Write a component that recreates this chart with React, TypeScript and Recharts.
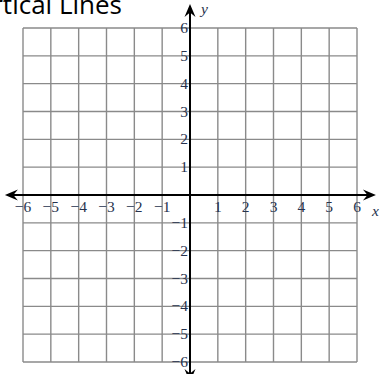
import { ScatterChart, Scatter, XAxis, YAxis, CartesianGrid, ReferenceLine, ReferenceDot } from 'recharts';

const TICKS = [-6, -5, -4, -3, -2, -1, 0, 1, 2, 3, 4, 5, 6];
const LABELED_TICKS = [-6, -5, -4, -3, -2, -1, 1, 2, 3, 4, 5, 6];
const X_AXIS_ENDS = [-6.65, 6.68];
const Y_AXIS_ENDS = [-6.72, 6.86];
const TITLE = 'Vertical Lines';

const LABEL_FONT = '"Liberation Serif", "DejaVu Serif", serif';
const LABEL_COLOR = '#26324d';

const fmt = (v: number) => (v < 0 ? `\u2212${Math.abs(v)}` : `${v}`);

const xLabelData = LABELED_TICKS.map((t) => ({ x: t, y: 0, label: fmt(t) }));
const yLabelData = LABELED_TICKS.map((t) => ({ x: 0, y: t, label: fmt(t) }));

function arrowHead(x: number, y: number, dx: number, dy: number) {
  // stealth-style arrowhead pointing along (dx, dy)
  const len = 13;
  const half = 5.5;
  const px = -dy;
  const py = dx;
  const bx = x - dx * len;
  const by = y - dy * len;
  const ix = x - dx * len * 0.65;
  const iy = y - dy * len * 0.65;
  return `M${x},${y} L${bx + px * half},${by + py * half} L${ix},${iy} L${bx - px * half},${by - py * half} Z`;
}

function AxisArrow(props: any) {
  const { x1, y1, x2, y2 } = props;
  const L = Math.hypot(x2 - x1, y2 - y1) || 1;
  const dx = (x2 - x1) / L;
  const dy = (y2 - y1) / L;
  return (
    <g>
      <line x1={x1 + dx * 6} y1={y1 + dy * 6} x2={x2 - dx * 6} y2={y2 - dy * 6} stroke="#000" strokeWidth={2} />
      <path d={arrowHead(x2, y2, dx, dy)} fill="#000" />
      <path d={arrowHead(x1, y1, -dx, -dy)} fill="#000" />
    </g>
  );
}

const XLabel = (p: any) => (
  <text x={p.cx} y={p.cy + 17} textAnchor="middle" fontFamily={LABEL_FONT} fontSize={15.5} fill={LABEL_COLOR}>
    {p.payload.label}
  </text>
);

const YLabel = (p: any) => (
  <text x={p.cx - 2} y={p.cy + 5} textAnchor="end" fontFamily={LABEL_FONT} fontSize={15.5} fill={LABEL_COLOR}>
    {p.payload.label}
  </text>
);

const axisName = (label: string, dx: number, dy: number) => (p: any) => (
  <text x={p.cx + dx} y={p.cy + dy} fontFamily={LABEL_FONT} fontStyle="italic" fontSize={15.5} fill={LABEL_COLOR}>
    {label}
  </text>
);

export default function App() {
  return (
    <div style={{ position: 'relative', width: 380, height: 374 }}>
      <style>{'body{margin:0}'}</style>
      <ScatterChart width={380} height={374} margin={{ top: 28, right: 23, bottom: 12, left: 23 }}>
        <XAxis type="number" dataKey="x" domain={[-6, 6]} ticks={TICKS} hide />
        <YAxis type="number" dataKey="y" domain={[-6, 6]} ticks={TICKS} hide />
        <CartesianGrid stroke="#8a8a8a" strokeWidth={1.4} />
        <ReferenceLine
          segment={[{ x: X_AXIS_ENDS[0], y: 0 }, { x: X_AXIS_ENDS[1], y: 0 }]}
          ifOverflow="visible"
          shape={AxisArrow}
        />
        <ReferenceLine
          segment={[{ x: 0, y: Y_AXIS_ENDS[0] }, { x: 0, y: Y_AXIS_ENDS[1] }]}
          ifOverflow="visible"
          shape={AxisArrow}
        />
        <Scatter data={xLabelData} shape={XLabel} isAnimationActive={false} />
        <Scatter data={yLabelData} shape={YLabel} isAnimationActive={false} />
        <ReferenceDot x={X_AXIS_ENDS[1]} y={0} r={0} ifOverflow="visible" shape={axisName('x', -4, 21)} />
        <ReferenceDot x={0} y={Y_AXIS_ENDS[1]} r={0} ifOverflow="visible" shape={axisName('y', 11, 10)} />
      </ScatterChart>
      <svg width={380} height={30} style={{ position: 'absolute', left: 0, top: 0, pointerEvents: 'none' }}>
        <text x={122} y={14} textAnchor="end" fontFamily='"Open Sans", "Noto Sans", sans-serif' fontSize={26} fill="#000">
          {TITLE}
        </text>
      </svg>
    </div>
  );
}
